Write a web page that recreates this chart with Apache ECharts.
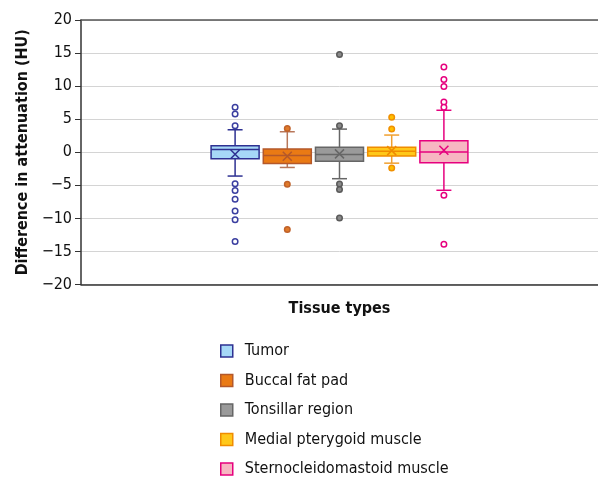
<!DOCTYPE html>
<html><head><meta charset="utf-8">
<script src="https://cdn.jsdelivr.net/npm/echarts@6/dist/echarts.min.js"></script>
<style>html,body{margin:0;padding:0;background:#fff}#c{width:598px;height:481px}</style>
</head><body><div id="c"></div>
<script>
const categories = ['Tumor', 'Buccal fat pad', 'Tonsillar region', 'Medial pterygoid muscle', 'Sternocleidomastoid muscle'];
const whiskerLow = [-3.6, -2.3, -4.0, -1.65, -5.75];
const q1 = [-1.0, -1.7, -1.35, -0.55, -1.6];
const median = [0.4, -0.5, -0.35, 0.15, 0.05];
const q3 = [1.0, 0.5, 0.75, 0.75, 1.75];
const whiskerHigh = [3.4, 3.1, 3.5, 2.6, 6.35];
const mean = [-0.3, -0.6, -0.25, 0.25, 0.3];
const outliersTumor = [6.8, 5.8, 4.0, -4.75, -5.8, -7.1, -8.9, -10.2, -13.5];
const outliersBuccal = [3.6, -4.85, -11.7];
const outliersTonsillar = [14.8, 4.0, -4.8, -5.65, -9.95];
const outliersMedial = [5.3, 3.5, -2.4];
const outliersSterno = [12.9, 11.0, 9.95, 7.6, 6.8, -6.5, -13.9];
const outliers = [outliersTumor, outliersBuccal, outliersTonsillar, outliersMedial, outliersSterno];
const yTicks = [-20, -15, -10, -5, 0, 5, 10, 15, 20];

const FONT = "'Liberation Sans Narrow','Arial Narrow','DejaVu Sans Condensed','Liberation Sans',sans-serif";
const styles = [
  {fill: '#a6d8f7', stroke: '#2e3192', whisker: '#2e3192', oFill: '#ffffff', oStroke: '#3b3fa0'},
  {fill: '#ea7a14', stroke: '#b4582a', whisker: '#b8775a', oFill: '#e07a2a', oStroke: '#c0622a'},
  {fill: '#9a9a9a', stroke: '#666666', whisker: '#666666', oFill: '#8a8a8a', oStroke: '#5a5a5a'},
  {fill: '#ffc81a', stroke: '#f08c00', whisker: '#f0a030', oFill: '#ffc000', oStroke: '#f09000'},
  {fill: '#f7b6c2', stroke: '#e6007e', whisker: '#e6007e', oFill: '#ffffff', oStroke: '#e6007e'}
];

function makeRender(k) {
  const s = styles[k];
  return function (params, api) {
    const i = api.value(0);
    const pLow = api.coord([i, api.value(1)]);
    const pQ1 = api.coord([i, api.value(2)]);
    const pMed = api.coord([i, api.value(3)]);
    const pQ3 = api.coord([i, api.value(4)]);
    const pHigh = api.coord([i, api.value(5)]);
    const pMean = api.coord([i, api.value(6)]);
    const bw = api.size([1, 0])[0] * 0.92;
    const cx = pQ1[0];
    const cap = 7.5, xs = 4.5;
    const wStyle = {stroke: s.whisker, lineWidth: 1.5};
    const bStyle = {stroke: s.stroke, lineWidth: 1.5};
    return {type: 'group', children: [
      {type: 'line', shape: {x1: cx, y1: pQ3[1], x2: cx, y2: pHigh[1]}, style: wStyle},
      {type: 'line', shape: {x1: cx, y1: pQ1[1], x2: cx, y2: pLow[1]}, style: wStyle},
      {type: 'line', shape: {x1: cx - cap, y1: pHigh[1], x2: cx + cap, y2: pHigh[1]}, style: wStyle},
      {type: 'line', shape: {x1: cx - cap, y1: pLow[1], x2: cx + cap, y2: pLow[1]}, style: wStyle},
      {type: 'rect', shape: {x: cx - bw / 2, y: pQ3[1], width: bw, height: pQ1[1] - pQ3[1]}, style: {fill: s.fill, stroke: s.stroke, lineWidth: 1.5}},
      {type: 'line', shape: {x1: cx - bw / 2, y1: pMed[1], x2: cx + bw / 2, y2: pMed[1]}, style: bStyle},
      {type: 'line', shape: {x1: cx - xs, y1: pMean[1] - xs, x2: cx + xs, y2: pMean[1] + xs}, style: bStyle},
      {type: 'line', shape: {x1: cx - xs, y1: pMean[1] + xs, x2: cx + xs, y2: pMean[1] - xs}, style: bStyle}
    ]};
  };
}

const series = [];
categories.forEach(function (name, k) {
  series.push({
    name: name, type: 'custom', xAxisIndex: 2, yAxisIndex: 1,
    renderItem: makeRender(k),
    itemStyle: {color: styles[k].fill},
    data: [[k, whiskerLow[k], q1[k], median[k], q3[k], whiskerHigh[k], mean[k]]],
    z: 3
  });
});
categories.forEach(function (name, k) {
  series.push({
    name: name, type: 'scatter', xAxisIndex: 2, yAxisIndex: 1,
    symbol: 'circle', symbolSize: 5.5,
    itemStyle: {color: styles[k].oFill, borderColor: styles[k].oStroke, borderWidth: 1.5, opacity: 1},
    data: outliers[k].map(function (v) { return [k, v]; }),
    z: 4
  });
});

const chart = echarts.init(document.getElementById('c'), null, {renderer: 'canvas'});
chart.setOption({
  animation: false,
  backgroundColor: '#ffffff',
  textStyle: {fontFamily: FONT},
  grid: [
    {left: 81, right: 0, top: 20, bottom: 196.5, containLabel: false},
    {left: 209, width: 261, top: 20, bottom: 196.5, containLabel: false}
  ],
  legend: {
    orient: 'vertical', left: 220, top: 343, padding: 0, height: 138,
    itemWidth: 12, itemHeight: 12, itemGap: 13.5, icon: 'rect',
    textStyle: {fontFamily: FONT, fontSize: 16, color: '#111', padding: [0, 0, 0, 7]},
    data: categories.map(function (name, k) {
      return {name: name, icon: 'rect', itemStyle: {color: styles[k].fill, borderColor: styles[k].stroke, borderWidth: 1.5}};
    })
  },
  xAxis: [
    {gridIndex: 0, type: 'category', data: ['Tissue types'], position: 'bottom',
     name: 'Tissue types', nameLocation: 'middle', nameGap: 16,
     nameTextStyle: {fontFamily: FONT, fontSize: 16, fontWeight: 'bold', color: '#111'},
     axisLine: {show: true, onZero: false, lineStyle: {color: '#333', width: 1.5}},
     axisTick: {show: false}, axisLabel: {show: false}, splitLine: {show: false}},
    {gridIndex: 0, type: 'category', data: ['Tissue types'], position: 'top',
     axisLine: {show: true, onZero: false, lineStyle: {color: '#555', width: 1.5}},
     axisTick: {show: false}, axisLabel: {show: false}, splitLine: {show: false}},
    {gridIndex: 1, type: 'category', data: categories, show: false}
  ],
  yAxis: [
    {gridIndex: 0, type: 'value', min: -20, max: 20, interval: 5,
     name: 'Difference in attenuation (HU)', nameLocation: 'middle', nameGap: 45,
     nameTextStyle: {fontFamily: FONT, fontSize: 16, fontWeight: 'bold', color: '#111'},
     axisLine: {show: true, lineStyle: {color: '#333', width: 1.5}},
     axisTick: {show: true, inside: false, length: 6, lineStyle: {color: '#333', width: 1}},
     axisLabel: {fontFamily: FONT, fontSize: 16, color: '#111', margin: 9,
       formatter: function (v) { return yTicks.indexOf(v) >= 0 ? String(v).replace('-', '\u2212') : ''; }},
     splitLine: {show: true, lineStyle: {color: '#d4d4d4', width: 1}}},
    {gridIndex: 1, type: 'value', min: -20, max: 20, show: false, splitLine: {show: false}}
  ],
  series: series
});
</script></body></html>
